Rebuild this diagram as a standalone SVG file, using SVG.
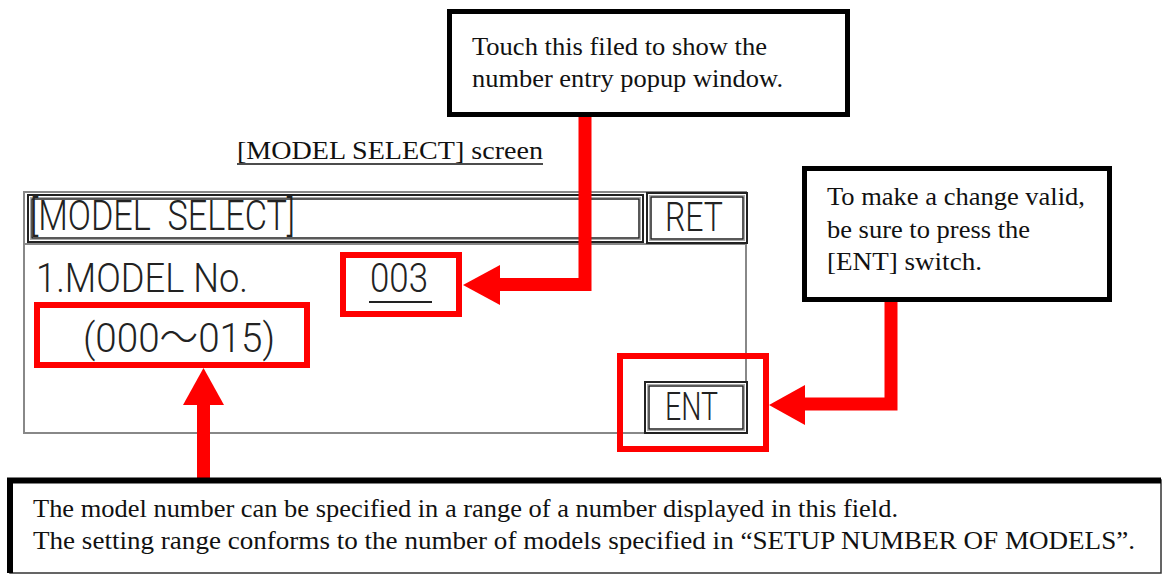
<svg xmlns="http://www.w3.org/2000/svg" width="1163" height="575" viewBox="0 0 1163 575">
<style>
.serif{font-family:"Liberation Serif","Times New Roman",serif;font-size:26px;fill:#111}
.lcd{font-family:Roboto,"Liberation Sans","DejaVu Sans","Noto Sans CJK JP",sans-serif;font-weight:300;fill:#222}
.redbox{fill:none;stroke:#ff0000;stroke-width:6}
.conn{fill:none;stroke:#ff0000;stroke-width:13}
.head{fill:#ff0000}
.fo{fill:#fff;stroke:#222;stroke-width:2}
.fm{fill:none;stroke:#aaa;stroke-width:1}
.fi{fill:none;stroke:#222;stroke-width:1.5}
.callout{fill:#fff;stroke:#000;stroke-width:5}
</style>
<rect width="1163" height="575" fill="#fff"/>

<g id="screen-title">
<text class="serif" x="237" y="159" font-size="28" textLength="306" lengthAdjust="spacingAndGlyphs">[MODEL SELECT] screen</text>
<line x1="237" y1="164" x2="543" y2="164" stroke="#111" stroke-width="1.5"/>
</g>

<g id="screen">
<rect x="24" y="192" width="722" height="241" fill="#fff" stroke="#888" stroke-width="2"/>
<line x1="24" y1="244" x2="746" y2="244" stroke="#888" stroke-width="2"/>
<g id="title-bar">
<rect class="fo" x="28" y="195" width="615" height="47"/>
<rect class="fm" x="30.5" y="197.5" width="610" height="42"/>
<rect class="fi" x="32" y="199" width="607" height="39"/>
<text class="lcd" x="30" y="230" font-size="42" textLength="265" lengthAdjust="spacingAndGlyphs">[MODEL&#160;&#160;SELECT]</text>
</g>
<g id="ret-button">
<rect class="fo" x="647" y="193" width="100" height="50"/>
<rect class="fm" x="649.5" y="195.5" width="95" height="45"/>
<rect class="fi" x="651" y="197" width="92" height="42"/>
<text class="lcd" x="665" y="231" font-size="40" textLength="58" lengthAdjust="spacingAndGlyphs">RET</text>
</g>
<text class="lcd" x="36" y="292" font-size="41" textLength="212" lengthAdjust="spacingAndGlyphs">1.MODEL No.</text>
<g id="value-field">
<text class="lcd" x="370" y="292" font-size="41" textLength="58" lengthAdjust="spacingAndGlyphs">003</text>
<line x1="369" y1="302" x2="432" y2="302" stroke="#222" stroke-width="2"/>
</g>
<text class="lcd" x="83" y="352" font-size="41" textLength="192" lengthAdjust="spacingAndGlyphs">(000～015)</text>
<g id="ent-button">
<rect class="fo" x="645" y="382" width="102" height="51"/>
<rect class="fm" x="647.5" y="384.5" width="97" height="46"/>
<rect class="fi" x="649" y="386" width="94" height="43"/>
<text class="lcd" x="665" y="420" font-size="39" textLength="53" lengthAdjust="spacingAndGlyphs">ENT</text>
</g>
</g>

<g id="highlights">
<rect id="hl-value" class="redbox" x="343" y="255" width="116" height="59"/>
<rect id="hl-range" class="redbox" x="37" y="305" width="270" height="60"/>
<rect id="hl-ent" class="redbox" x="620" y="356" width="146" height="93"/>
</g>

<g id="connectors">
<path class="conn" d="M585,117 V284.5 H498"/>
<polygon class="head" points="463,285 500,265 500,305"/>
<path class="conn" d="M891,302 V404 H803"/>
<polygon class="head" points="769,405 805,385 805,425"/>
<path class="conn" d="M203.5,480 V403"/>
<polygon class="head" points="203.5,368 183,405 224,405"/>
</g>

<g id="note-touch">
<rect class="callout" x="449.5" y="11.5" width="398" height="103"/>
<text class="serif" x="472" y="55" textLength="295" lengthAdjust="spacingAndGlyphs">Touch this filed to show the</text>
<text class="serif" x="472" y="87" textLength="311" lengthAdjust="spacingAndGlyphs">number entry popup window.</text>
</g>

<g id="note-ent">
<rect class="callout" x="804.5" y="168.5" width="305" height="131"/>
<text class="serif" x="827" y="205" textLength="258" lengthAdjust="spacingAndGlyphs">To make a change valid,</text>
<text class="serif" x="827" y="238" textLength="203" lengthAdjust="spacingAndGlyphs">be sure to press the</text>
<text class="serif" x="827" y="270" textLength="155" lengthAdjust="spacingAndGlyphs">[ENT] switch.</text>
</g>

<g id="note-range">
<rect x="10" y="480" width="1151" height="93" fill="#fff" stroke="#333" stroke-width="1.5"/>
<path d="M10,573 V480.5 H1161" fill="none" stroke="#000" stroke-width="6"/>
<text class="serif" x="33" y="517" textLength="865" lengthAdjust="spacingAndGlyphs">The model number can be specified in a range of a number displayed in this field.</text>
<text class="serif" x="33" y="549" textLength="1102" lengthAdjust="spacingAndGlyphs">The setting range conforms to the number of models specified in “SETUP NUMBER OF MODELS”.</text>
</g>
</svg>
